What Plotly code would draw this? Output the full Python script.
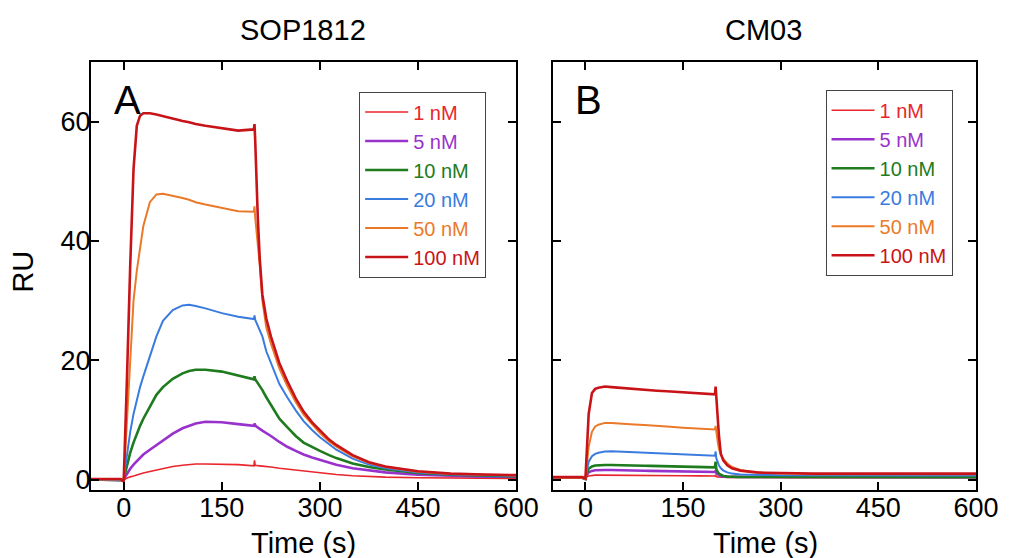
import plotly.graph_objects as go

# ---------------- data ----------------
time_s = [-50, -5, 0, 2, 5, 10, 15, 20, 25, 30, 40, 50, 60, 75, 90, 100, 110, 125, 150, 175,
          199, 200, 201, 203, 205, 208, 212, 218, 225, 238, 250, 263, 275, 288, 300, 314,
          325, 350, 375, 400, 450, 500, 550, 600]

conc_labels = ["1 nM", "5 nM", "10 nM", "20 nM", "50 nM", "100 nM"]

# Panel A: SOP1812 (RU)
sop_1nM = [0, 0, -0.1, 0.1, 0.25, 0.45, 0.6, 0.8, 0.95, 1.1, 1.35, 1.6, 1.9, 2.2, 2.4, 2.5, 2.6, 2.6, 2.6, 2.5,
           2.3, 3.2, 2.4, 2.4, 2.35, 2.3, 2.25, 2.2, 2.1, 1.9, 1.75, 1.6, 1.45, 1.25, 1.1, 0.95,
           0.85, 0.65, 0.5, 0.4, 0.3, 0.25, 0.2, 0.2]
sop_5nM = [0, 0, -0.1, 0.4, 1.0, 1.8, 2.5, 3.1, 3.7, 4.2, 5.0, 5.8, 6.6, 7.7, 8.6, 9.0, 9.4, 9.7, 9.6, 9.3,
           9.0, 9.4, 9.1, 8.9, 8.7, 8.5, 8.2, 7.8, 7.3, 6.3, 5.5, 4.8, 4.2, 3.7, 3.3, 2.8,
           2.5, 1.9, 1.5, 1.2, 0.8, 0.6, 0.5, 0.45]
sop_10nM = [0, 0, -0.1, 1.0, 2.5, 4.5, 6.2, 7.7, 9.0, 10.2, 12.3, 14.2, 15.5, 16.9, 17.8, 18.2, 18.4, 18.4, 18.1, 17.5,
            16.8, 17.3, 16.8, 16.5, 16.2, 15.6, 15.0, 13.8, 12.5, 10.2, 8.8, 7.3, 6.2, 5.4, 4.8, 4.1,
            3.6, 2.7, 2.1, 1.7, 1.1, 0.8, 0.65, 0.55]
sop_20nM = [0, 0, -0.1, 1.8, 4.5, 8.0, 11.0, 13.5, 15.5, 17.3, 20.5, 24.0, 26.6, 28.4, 29.2, 29.3, 29.1, 28.7, 27.9, 27.3,
            26.9, 27.5, 26.8, 26.3, 25.9, 25.2, 24.0, 21.5, 19.5, 16.0, 13.8, 11.6, 9.8, 8.3, 7.1, 5.9,
            5.0, 3.5, 2.5, 1.9, 1.2, 0.85, 0.7, 0.6]
sop_50nM = [0, 0, -0.2, 4.0, 11.0, 21.0, 30.0, 35.0, 39.0, 42.5, 46.5, 47.8, 47.9, 47.6, 47.2, 46.9, 46.5, 46.1, 45.5, 45.0,
            44.9, 45.8, 44.0, 42.0, 40.0, 36.0, 30.0, 25.5, 22.8, 18.6, 15.7, 13.0, 10.9, 9.2, 7.8, 6.4,
            5.5, 3.9, 2.8, 2.1, 1.3, 0.95, 0.8, 0.7]
sop_100nM = [0.1, 0.1, -0.3, 6.0, 17.0, 36.0, 52.0, 59.3, 61.0, 61.4, 61.4, 61.2, 60.9, 60.5, 60.1, 59.9, 59.6, 59.3, 58.9, 58.5,
             58.7, 59.6, 57.0, 50.0, 44.0, 37.0, 31.0, 27.0, 24.0, 19.5, 16.5, 13.6, 11.4, 9.6, 8.2, 6.7,
             5.8, 4.1, 2.9, 2.2, 1.4, 1.0, 0.85, 0.75]

# Panel B: CM03 (RU)
cm_1nM = [0.4, 0.4, 0.2, 0.5, 0.6, 0.7, 0.75, 0.75, 0.75, 0.75, 0.75, 0.75, 0.72, 0.7, 0.7, 0.68, 0.66, 0.65, 0.63, 0.62,
          0.6, 0.8, 0.5, 0.45, 0.42, 0.4, 0.38, 0.36, 0.35, 0.35, 0.34, 0.33, 0.33, 0.32, 0.32, 0.31,
          0.31, 0.3, 0.3, 0.3, 0.3, 0.3, 0.3, 0.3]
cm_5nM = [0.3, 0.3, 0.1, 0.7, 1.2, 1.45, 1.55, 1.6, 1.6, 1.6, 1.6, 1.6, 1.55, 1.5, 1.48, 1.45, 1.42, 1.4, 1.35, 1.3,
          1.27, 1.5, 1.1, 0.9, 0.75, 0.6, 0.5, 0.47, 0.45, 0.44, 0.43, 0.42, 0.42, 0.41, 0.41, 0.4,
          0.4, 0.4, 0.4, 0.4, 0.4, 0.4, 0.4, 0.4]
cm_10nM = [0.3, 0.3, 0.1, 1.0, 1.8, 2.2, 2.35, 2.4, 2.45, 2.45, 2.45, 2.4, 2.38, 2.35, 2.32, 2.3, 2.28, 2.25, 2.2, 2.1,
           2.05, 3.0, 1.8, 1.3, 1.0, 0.8, 0.6, 0.5, 0.45, 0.43, 0.42, 0.42, 0.41, 0.41, 0.4, 0.4,
           0.4, 0.4, 0.4, 0.4, 0.4, 0.4, 0.4, 0.4]
cm_20nM = [0.3, 0.3, 0.1, 1.5, 3.0, 3.9, 4.3, 4.5, 4.6, 4.7, 4.75, 4.7, 4.65, 4.6, 4.5, 4.45, 4.4, 4.3, 4.2, 4.1,
           4.0, 4.7, 3.6, 3.0, 2.4, 1.9, 1.5, 1.2, 1.0, 0.85, 0.8, 0.78, 0.76, 0.75, 0.74, 0.73,
           0.72, 0.72, 0.71, 0.7, 0.7, 0.7, 0.7, 0.7]
cm_50nM = [0.3, 0.3, 0.1, 2.5, 5.5, 8.0, 8.9, 9.2, 9.4, 9.5, 9.5, 9.4, 9.35, 9.25, 9.15, 9.1, 9.0, 8.9, 8.7, 8.55,
           8.4, 9.0, 8.0, 6.5, 5.2, 4.2, 3.4, 2.7, 2.1, 1.6, 1.35, 1.2, 1.1, 1.05, 1.0, 0.95,
           0.95, 0.9, 0.9, 0.9, 0.9, 0.9, 0.9, 0.9]
cm_100nM = [0.4, 0.4, 0.2, 5.0, 11.0, 14.5, 15.2, 15.4, 15.5, 15.6, 15.5, 15.4, 15.3, 15.2, 15.1, 15.0, 14.9, 14.8, 14.6, 14.4,
            14.3, 15.6, 13.5, 11.0, 7.5, 4.3, 3.2, 2.4, 1.9, 1.5, 1.3, 1.2, 1.15, 1.1, 1.1, 1.05,
            1.05, 1.0, 1.0, 1.0, 1.0, 1.0, 1.0, 1.0]

x_ticks = [0, 150, 300, 450, 600]
y_ticks = [0, 20, 40, 60]

# ---------------- style ----------------
colors = ["#e8262b", "#9932cc", "#1e7b1e", "#3a7be0", "#ea7a2a", "#c81418"]
widths = [1.6, 2.6, 2.6, 2.0, 2.0, 2.6]
FONT = "Arial, Liberation Sans, sans-serif"

sop_series = [sop_1nM, sop_5nM, sop_10nM, sop_20nM, sop_50nM, sop_100nM]
cm_series = [cm_1nM, cm_5nM, cm_10nM, cm_20nM, cm_50nM, cm_100nM]

fig = go.Figure()
for lab, col, w, ys in zip(conc_labels, colors, widths, sop_series):
    fig.add_trace(go.Scatter(x=time_s, y=ys, mode="lines", xaxis="x", yaxis="y",
                             line=dict(color=col, width=w),
                             name=f"<span style='color:{col}'>{lab}</span>",
                             legend="legend"))
for lab, col, w, ys in zip(conc_labels, colors, widths, cm_series):
    fig.add_trace(go.Scatter(x=time_s, y=ys, mode="lines", xaxis="x2", yaxis="y2",
                             line=dict(color=col, width=w),
                             name=f"<span style='color:{col}'>{lab}</span>",
                             legend="legend2"))

axis_common = dict(showline=True, linecolor="black", linewidth=2, mirror="ticks",
                   ticks="inside", ticklen=8, tickwidth=2, tickcolor="black",
                   showgrid=False, zeroline=False,
                   tickfont=dict(family=FONT, size=27, color="black"))

fig.update_layout(
    width=1011, height=558,
    margin=dict(l=91, r=29, t=62, b=68),
    paper_bgcolor="white", plot_bgcolor="white",
    font=dict(family=FONT, color="black"),
    xaxis=dict(domain=[0, 0.4804], range=[-50, 600], tickvals=x_ticks,
               ticklabelstandoff=-7, **axis_common),
    yaxis=dict(range=[-1.75, 70], tickvals=y_ticks, ticklabelstandoff=-7, **axis_common),
    xaxis2=dict(domain=[0.5219, 1], range=[-50, 600], tickvals=x_ticks, anchor="y2",
                ticklabelstandoff=-7, **axis_common),
    yaxis2=dict(range=[-1.75, 70], tickvals=y_ticks, anchor="x2", showticklabels=False, **axis_common),
    legend=dict(x=0.303, y=0.931, xanchor="left", yanchor="top",
                bgcolor="white", bordercolor="#444", borderwidth=1,
                font=dict(family=FONT, size=20), itemwidth=43, tracegroupgap=0),
    legend2=dict(x=0.83, y=0.935, xanchor="left", yanchor="top",
                 bgcolor="white", bordercolor="#444", borderwidth=1,
                 font=dict(family=FONT, size=20), itemwidth=43, tracegroupgap=0),
    showlegend=True,
)

annots = [
    dict(text="SOP1812", x=0.240, y=1.075, xref="paper", yref="paper", size=29),
    dict(text="CM03", x=0.760, y=1.075, xref="paper", yref="paper", size=29),
    dict(text="Time (s)", x=0.240, y=-0.124, xref="paper", yref="paper", size=29),
    dict(text="Time (s)", x=0.762, y=-0.124, xref="paper", yref="paper", size=29),
    dict(text="A", x=0.086, y=0.911, xref="x domain", yref="y domain", size=40),
    dict(text="B", x=0.085, y=0.911, xref="x2 domain", yref="y2 domain", size=40),
]
for a in annots:
    fig.add_annotation(text=a["text"], x=a["x"], y=a["y"], xref=a["xref"], yref=a["yref"],
                       xanchor="center", yanchor="middle", showarrow=False,
                       font=dict(family=FONT, size=a["size"], color="black"))
fig.add_annotation(text="RU", x=-0.077, y=0.51, xref="paper", yref="paper", textangle=-90,
                   xanchor="center", yanchor="middle", showarrow=False,
                   font=dict(family=FONT, size=29, color="black"))

fig.write_html("out.html", config={"displayModeBar": False},
               post_script="document.body.style.margin='0';document.body.style.overflow='hidden';")
